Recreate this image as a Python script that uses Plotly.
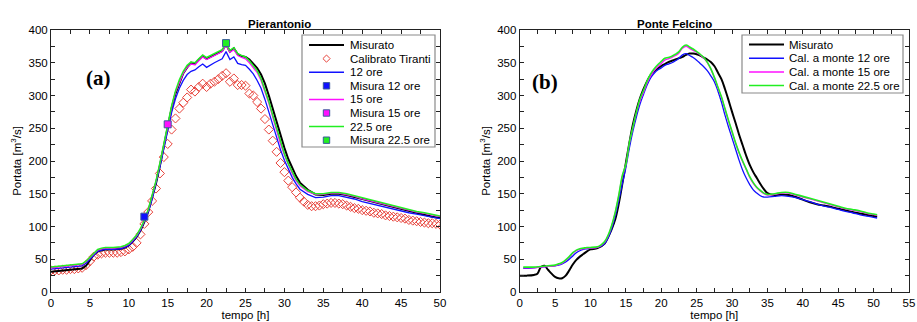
import plotly.graph_objects as go

# ---------------- Pierantonio (a) ----------------
t_pier = [0, 1, 2, 3, 4, 4.5, 5, 5.5, 6, 6.5, 7, 8, 9,
          9.5, 10, 10.5, 11, 11.5, 12, 12.5, 13, 13.5, 14, 14.5, 15, 15.5, 16, 16.5, 17, 17.5,
          18, 18.5, 19, 19.5, 20, 20.5, 21, 21.5, 22, 22.5, 23, 23.5, 24, 24.5, 25, 25.5,
          26, 26.5, 27, 27.5, 28, 28.5, 29, 29.5, 30, 30.5, 31, 31.5, 32,
          33, 34, 35, 36, 37, 38, 39, 40, 41, 42, 43, 44, 45, 46, 47, 48, 49, 50]
pier_misurato = [31, 32, 33, 34, 36, 40, 48, 57, 62, 64, 65, 65, 66,
                 68, 71, 77, 84, 94, 107, 123, 143, 166, 193, 222, 252, 280, 303, 320, 334, 343,
                 350, 348, 355, 360, 356, 359, 362, 365, 368, 378, 367, 372, 363, 360, 359, 355,
                 348, 342, 332, 318, 300, 280, 259, 238, 220, 203, 189, 177, 167,
                 156, 149, 148, 150, 150, 148, 145, 141, 138, 135, 132, 129, 126, 124, 121, 118, 115, 113]
pier_12 = [35, 36, 37, 38, 40, 44, 50, 57, 62, 64, 65, 65, 66,
           68, 71, 77, 84, 94, 107, 122, 142, 165, 191, 219, 248, 274, 295, 311, 323, 332,
           337, 339, 344, 348, 343, 347, 350, 353, 356, 367, 355, 359, 349, 347, 346, 340,
           333, 323, 311, 294, 275, 255, 235, 217, 201, 187, 175, 165, 157,
           149, 144, 145, 147, 147, 145, 142, 138, 135, 132, 129, 127, 124, 121, 119, 117, 114, 112]
pier_15 = [37, 38, 39, 40, 42, 46, 52, 59, 64, 66, 67, 67, 68,
           70, 73, 79, 86, 96, 109, 125, 145, 169, 196, 225, 255, 282, 305, 321, 334, 343,
           348, 347, 353, 359, 355, 358, 361, 364, 367, 377, 366, 370, 361, 358, 356, 350,
           343, 335, 323, 307, 288, 267, 246, 226, 209, 194, 181, 170, 162,
           153, 149, 149, 151, 151, 149, 146, 142, 139, 136, 133, 130, 127, 125, 122, 120, 117, 115]
pier_225 = [38, 39, 40, 41, 43, 47, 53, 60, 65, 67, 68, 68, 69,
            71, 74, 80, 87, 97, 110, 126, 146, 170, 197, 226, 256, 284, 307, 324, 337, 346,
            351, 350, 356, 362, 358, 361, 364, 367, 370, 380, 369, 373, 364, 361, 359, 353,
            346, 338, 326, 310, 291, 270, 249, 229, 211, 196, 183, 172, 164,
            155, 150, 150, 152, 152, 150, 147, 143, 140, 137, 134, 131, 128, 126, 123, 121, 118, 116]

t_tiranti = [0, 0.5, 1, 1.5, 2, 2.5, 3, 3.5, 4, 4.5, 5, 5.5, 6, 6.5, 7, 7.5, 8, 8.5, 9, 9.5,
             10, 10.5, 11, 11.5, 12, 12.5, 13, 13.5, 14, 14.5, 15, 15.5, 16, 16.5, 17, 17.5,
             18, 18.5, 19, 19.5, 20, 20.5, 21, 21.5, 22, 22.5, 23, 23.5, 24, 24.5, 25, 25.5,
             26, 26.5, 27, 27.5, 28, 28.5, 29, 29.5, 30, 30.5, 31, 31.5, 32, 32.5, 33, 33.5,
             34, 34.5, 35, 35.5, 36, 36.5, 37, 37.5, 38, 38.5, 39, 39.5, 40, 40.5, 41, 41.5,
             42, 42.5, 43, 43.5, 44, 44.5, 45, 45.5, 46, 46.5, 47, 47.5, 48, 48.5, 49, 49.5, 50]
pier_tiranti = [33, 33, 33, 34, 34, 35, 35, 36, 37, 41, 47, 54, 57, 59, 60, 60, 60, 60, 61, 62,
                65, 69, 75, 88, 104, 122, 139, 158, 181, 206, 226, 248, 265, 280, 289, 297,
                309, 306, 313, 318, 313, 318, 321, 325, 330, 334, 321, 326, 316, 316, 315, 303,
                300, 290, 280, 264, 248, 231, 214, 197, 183, 170, 160, 152, 144, 138, 133, 131,
                131, 132, 134, 135, 136, 136, 135, 134, 132, 130, 128, 127, 125, 124, 123, 121,
                120, 119, 117, 116, 115, 114, 113, 112, 110, 109, 108, 107, 106, 105, 105, 104, 103]

misura_t = [12, 15, 22.5]
misura_q = [115, 256, 380]

# ---------------- Ponte Felcino (b) ----------------
t_pf_mis = [0, 1, 2, 2.5, 3, 3.5, 4, 4.5, 5, 5.5, 6, 6.5, 7, 7.5, 8, 8.5, 9, 9.5, 10, 11, 12,
            12.5, 13, 13.5, 14, 14.5, 15, 15.5, 16, 16.5, 17, 17.5, 18, 18.5, 19, 19.5, 20,
            20.5, 21, 21.5, 22, 22.5, 23, 23.5, 24, 24.5, 25, 25.5, 26, 26.5, 27, 27.5, 28,
            28.5, 29, 29.5, 30, 30.5, 31, 31.5, 32, 32.5, 33, 33.5, 34, 34.5, 35,
            36, 37, 38, 39, 40, 41, 42, 43, 44, 45, 46, 47, 48, 49, 50, 50.5]
pf_misurato = [25, 25, 26, 28, 38, 40, 34, 28, 23, 21, 21, 25, 33, 42, 49, 54, 58, 62, 65, 67, 74,
               84, 96, 111, 135, 165, 197, 228, 256, 278, 296, 310, 322, 331, 337, 341, 345,
               348, 351, 353, 355, 357, 359, 362, 364, 364, 363, 361, 358, 355, 351, 345, 335,
               325, 310, 293, 275, 258, 240, 224, 208, 194, 183, 174, 165, 157, 151,
               148, 149, 148, 145, 141, 137, 134, 132, 130, 127, 125, 122, 120, 118, 116, 115]

t_pf_cal = [0.5, 1, 2, 3, 4, 5, 5.5, 6, 6.5, 7, 7.5, 8, 8.5, 9, 9.5, 10, 11,
            11.5, 12, 12.5, 13, 13.5, 14, 14.5, 15, 15.5, 16, 16.5, 17, 17.5, 18, 18.5, 19,
            19.5, 20, 20.5, 21, 21.5, 22, 22.5, 23, 23.5, 24, 24.5, 25, 25.5, 26, 26.5, 27,
            27.5, 28, 28.5, 29, 29.5, 30, 30.5, 31, 31.5, 32, 32.5, 33, 33.5, 34, 34.5, 35,
            36, 37, 38, 39, 40, 41, 42, 43, 44, 45, 46, 47, 48, 49, 50, 50.5]
pf_12 = [36, 36, 37, 38, 39, 40, 41, 43, 46, 50, 55, 60, 63, 65, 66, 67, 68,
         70, 74, 83, 97, 116, 140, 165, 190, 220, 246, 268, 287, 302, 316, 327, 334,
         339, 342, 346, 348, 350, 353, 357, 362, 364, 361, 358, 354, 349, 344, 338, 330,
         321, 307, 290, 270, 252, 235, 218, 201, 186, 174, 164, 156, 151, 147, 145, 145,
         146, 147, 146, 144, 141, 138, 134, 131, 129, 126, 123, 121, 118, 116, 114, 113]
pf_15 = [37, 37, 37, 38, 39, 40, 42, 44, 48, 53, 59, 63, 65, 66, 67, 67, 68,
         71, 76, 86, 101, 121, 147, 176, 194, 227, 251, 274, 292, 305, 319, 330, 338,
         344, 349, 354, 356, 358, 361, 365, 372, 375, 372, 369, 366, 362, 357, 350, 340,
         327, 312, 297, 279, 261, 244, 227, 212, 199, 187, 175, 166, 159, 154, 150, 148,
         149, 151, 151, 148, 145, 142, 139, 136, 133, 130, 127, 125, 123, 120, 118, 117]
pf_225 = [38, 38, 38, 39, 40, 41, 43, 45, 49, 54, 60, 64, 66, 67, 68, 68, 69,
          72, 77, 87, 102, 122, 148, 178, 195, 228, 252, 275, 295, 308, 322, 333, 341,
          347, 352, 357, 358, 360, 363, 367, 374, 377, 374, 371, 367, 363, 358, 351, 341,
          328, 313, 298, 280, 262, 245, 228, 213, 200, 188, 176, 167, 160, 155, 151, 149,
          150, 152, 152, 149, 146, 143, 140, 137, 134, 131, 128, 126, 124, 121, 119, 118]

# ---------------- styling ----------------
W, H = 917, 322
FONT = "Liberation Sans"
BLACK, BLUE, MAGENTA, GREEN, RED = "#000000", "#1010ff", "#ff10ff", "#22ee22", "#e8423a"

fig = go.Figure()

def line(x, y, color, name, width, xa, ya, shape="linear"):
    fig.add_trace(go.Scatter(x=x, y=y, mode="lines", name=name, showlegend=False,
                             line=dict(color=color, width=width, shape=shape),
                             xaxis=xa, yaxis=ya))

# panel (a)
fig.add_trace(go.Scatter(x=t_tiranti, y=pier_tiranti, mode="markers", name="Calibrato Tiranti",
                         showlegend=False, xaxis="x", yaxis="y",
                         marker=dict(symbol="diamond-open", size=7, color=RED, line=dict(width=1, color=RED))))
line(t_pier, pier_misurato, BLACK, "Misurato", 2, "x", "y")
line(t_pier, pier_12, BLUE, "12 ore", 1.3, "x", "y")
line(t_pier, pier_15, MAGENTA, "15 ore", 1.3, "x", "y")
line(t_pier, pier_225, GREEN, "22.5 ore", 1.5, "x", "y")
sq_cols = [BLUE, MAGENTA, GREEN]
sq_names = ["Misura 12 ore", "Misura 15 ore", "Misura 22.5 ore"]
for i in range(3):
    fig.add_trace(go.Scatter(x=[misura_t[i]], y=[misura_q[i]], mode="markers", name=sq_names[i],
                             showlegend=False, xaxis="x", yaxis="y",
                             marker=dict(symbol="square", size=7, color=sq_cols[i],
                                         line=dict(width=1, color="#3a5a9a"))))

# panel (b)
line(t_pf_mis, pf_misurato, BLACK, "Misurato", 2, "x2", "y2", "spline")
line(t_pf_cal, pf_12, BLUE, "Cal. a monte 12 ore", 1.3, "x2", "y2", "spline")
line(t_pf_cal, pf_15, MAGENTA, "Cal. a monte 15 ore", 1.3, "x2", "y2", "spline")
line(t_pf_cal, pf_225, GREEN, "Cal. a monte 22.5 ore", 1.6, "x2", "y2", "spline")

def px(x):
    return x / W

def py(y):
    return 1 - y / H

axis_common = dict(showline=True, linecolor="#222", linewidth=1, mirror="allticks",
                   ticks="inside", ticklen=4, tickwidth=1, tickcolor="#222",
                   showgrid=False, zeroline=False, automargin=False,
                   tickfont=dict(family=FONT, size=11.5, color="#000"),
                   title_font=dict(family=FONT, size=11.5, color="#000"))

ydom = [py(292), py(30)]
fig.update_layout(
    width=W, height=H, margin=dict(l=0, r=0, t=0, b=0, autoexpand=False),
    paper_bgcolor="white", plot_bgcolor="white",
    xaxis=dict(domain=[px(51), px(440)], range=[0, 50], dtick=5,
               minor=dict(dtick=2.5, ticks="inside", ticklen=4, tickcolor="#222"),
               title=dict(text="tempo [h]", standoff=2), anchor="y", **axis_common),
    yaxis=dict(domain=ydom, range=[0, 400], dtick=50,
               minor=dict(dtick=25, ticks="inside", ticklen=4, tickcolor="#222"),
               title=dict(text="Portata [m<sup>3</sup>/s]", standoff=4), anchor="x", **axis_common),
    xaxis2=dict(domain=[px(519.7), px(909)], range=[0, 55], dtick=5,
                minor=dict(dtick=2.5, ticks="inside", ticklen=4, tickcolor="#222"),
                title=dict(text="tempo [h]", standoff=2), anchor="y2", **axis_common),
    yaxis2=dict(domain=ydom, range=[0, 400], dtick=50,
                minor=dict(dtick=25, ticks="inside", ticklen=4, tickcolor="#222"),
                title=dict(text="Portata [m<sup>3</sup>/s]", standoff=4), anchor="x2", **axis_common),
)

annotations = [
    dict(text="<b>Pierantonio</b>", x=px(245.5), y=py(16), xref="paper", yref="paper",
         showarrow=False, font=dict(family=FONT, size=11.5, color="#000")),
    dict(text="<b>Ponte Felcino</b>", x=px(714), y=py(16), xref="paper", yref="paper",
         showarrow=False, font=dict(family=FONT, size=11.5, color="#000")),
    dict(text="<b>(a)</b>", x=px(84), y=py(64), xref="paper", yref="paper",
         showarrow=False, font=dict(family="Liberation Serif", size=21, color="#000")),
    dict(text="<b>(b)</b>", x=px(545), y=py(68), xref="paper", yref="paper",
         showarrow=False, font=dict(family="Liberation Serif", size=21, color="#000")),
]
shapes = []

def legend_box(x0, x1, y0, y1, entries, row0, pitch, lx0, lx1, tx):
    shapes.append(dict(type="rect", xref="paper", yref="paper", x0=px(x0), x1=px(x1),
                       y0=py(y1), y1=py(y0), line=dict(color="#8a8a8a", width=1.2),
                       fillcolor="white", layer="above"))
    for i, (name, kind, color) in enumerate(entries):
        yc = row0 + pitch * i
        xc = (lx0 + lx1) / 2
        if kind == "line":
            w = 2 if color == BLACK else 1.5
            shapes.append(dict(type="line", xref="paper", yref="paper", x0=px(lx0), x1=px(lx1),
                               y0=py(yc), y1=py(yc), line=dict(color=color, width=w), layer="above"))
        elif kind == "diamond":
            r = 3.6
            path = (f"M {px(xc)},{py(yc - r)} L {px(xc + r)},{py(yc)} "
                    f"L {px(xc)},{py(yc + r)} L {px(xc - r)},{py(yc)} Z")
            shapes.append(dict(type="path", xref="paper", yref="paper", path=path,
                               line=dict(color=color, width=1), layer="above"))
        else:
            r = 3.2
            shapes.append(dict(type="rect", xref="paper", yref="paper", x0=px(xc - r), x1=px(xc + r),
                               y0=py(yc + r), y1=py(yc - r), fillcolor=color,
                               line=dict(color="#3a5a9a", width=1), layer="above"))
        annotations.append(dict(text=name, x=px(tx), y=py(yc), xref="paper", yref="paper",
                                xanchor="left", yanchor="middle", showarrow=False,
                                font=dict(family=FONT, size=11.5, color="#000")))

legend_box(302, 435, 35, 147,
           [("Misurato", "line", BLACK), ("Calibrato Tiranti", "diamond", RED),
            ("12 ore", "line", BLUE), (sq_names[0], "square", BLUE),
            ("15 ore", "line", MAGENTA), (sq_names[1], "square", MAGENTA),
            ("22.5 ore", "line", GREEN), (sq_names[2], "square", GREEN)],
           45, 13.6, 309, 344, 348)
legend_box(742, 903, 35, 93,
           [("Misurato", "line", BLACK), ("Cal. a monte 12 ore", "line", BLUE),
            ("Cal. a monte 15 ore", "line", MAGENTA), ("Cal. a monte 22.5 ore", "line", GREEN)],
           44.5, 13.7, 749, 784, 787)

fig.update_layout(annotations=annotations, shapes=shapes)
fig.write_html("out.html", config={"displayModeBar": False},
               post_script="document.body.style.margin='0px';document.body.style.overflow='hidden';")
